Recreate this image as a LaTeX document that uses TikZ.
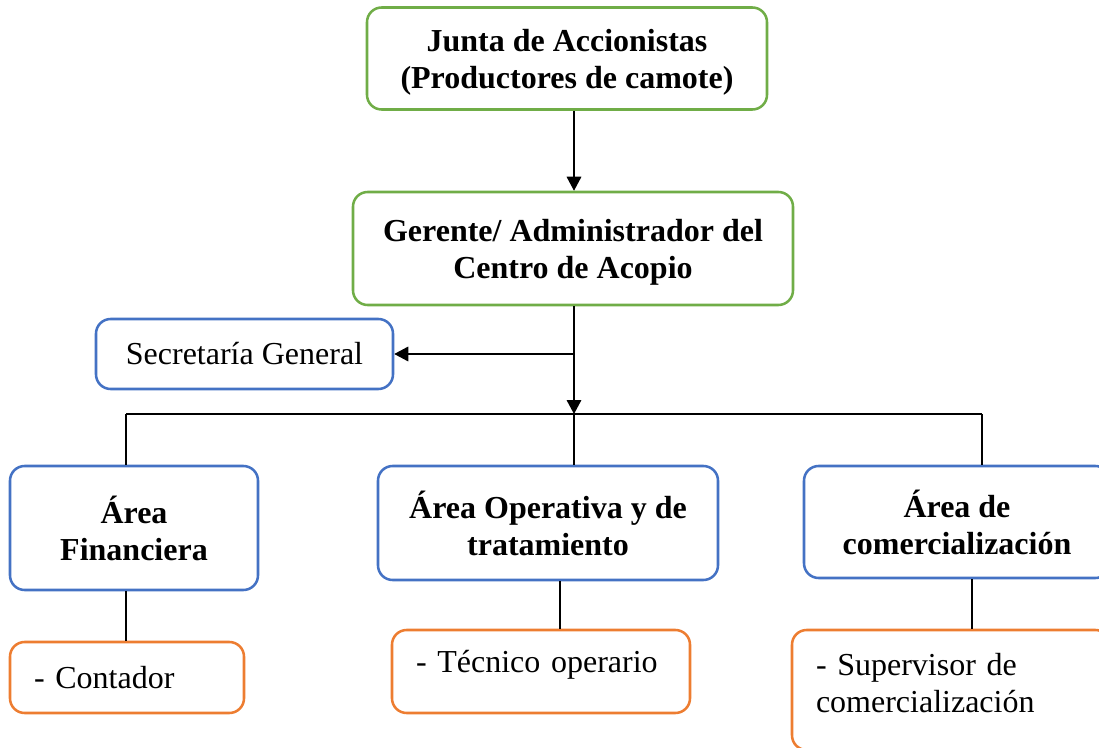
\documentclass[tikz,border=0pt]{standalone}
\usepackage{fontspec}
\setmainfont{Liberation Serif}
\usetikzlibrary{arrows.meta,positioning,calc}

\definecolor{boxgreen}{RGB}{112,173,71}
\definecolor{boxblue}{RGB}{68,114,196}
\definecolor{boxorange}{RGB}{237,125,49}

\begin{document}
\begin{tikzpicture}[
    x=0.75pt, y=-0.75pt,
    box/.style={draw, rounded corners=11pt, line width=1.9pt, align=center,
                font=\fontsize{24}{27.75}\selectfont\bfseries, inner sep=0pt},
    headbox/.style={box, boxgreen, text depth=-3pt},
    areabox/.style={box, boxblue},
    taskbox/.style={box, boxorange, align=left, font=\fontsize{24}{27.75}\selectfont,
                    inner xsep=18pt},
    link/.style={line width=0.9pt, black},
    arrow/.style={link, -{Triangle[length=10.5pt,width=11pt]}}
]
    \useasboundingbox (0,0) rectangle (1099,748);
    \clip (0,0) rectangle (1099,748);

    % direccion
    \node[headbox, minimum width=300pt, minimum height=76.5pt, text=black] (junta) at (567,58.5) {
        Junta de Accionistas\\
        (Productores de camote)
    };
    \node[headbox, minimum width=330pt, minimum height=84.75pt, text=black] (gerente) at (573,248.5) {
        Gerente/ Administrador del\\
        Centro de Acopio
    };
    \node[areabox, minimum width=222.75pt, minimum height=52.5pt, text=black,
          font=\fontsize{24}{27.75}\selectfont] (secre) at (244.5,354) {Secretaría General};

    % areas
    \node[areabox, minimum width=186pt, minimum height=93pt, text=black] (fin) at (134,528) {
        Área\\
        Financiera
    };
    \node[areabox, minimum width=255pt, minimum height=85.5pt, text=black] (oper) at (548,523) {
        Área Operativa y de\\
        tratamiento
    };
    \node[areabox, minimum width=229.5pt, minimum height=84pt, text=black] (comer) at (957,522) {
        Área de\\
        comercialización
    };

    % cargos
    \node[taskbox, text width=139.5pt, minimum height=53.25pt, text=black] (conta) at (127,677.5) {- Contador};
    \node[taskbox, text width=187.5pt, minimum height=62.25pt, text=black,
          text depth=15pt] (tec) at (541,671.5) {- Técnico operario};
    \node[taskbox, text width=202.5pt, minimum height=90pt, text=black,
          text depth=39pt] (super) at (951,690) {
        - Supervisor de\\
        comercialización
    };

    \coordinate (hub) at (574,414);
    \coordinate (busL) at (126,414);
    \coordinate (busR) at (982,414);

    \draw[arrow] (hub |- junta.south) -- (hub |- gerente.north);
    \draw[arrow] (hub |- gerente.south) -- (hub);
    \draw[arrow] (hub |- secre.east) -- (secre.east);

    \draw[link] (busL) -- (busR);
    \draw[link] (busL) -- (busL |- fin.north);
    \draw[link] (hub) -- (hub |- oper.north);
    \draw[link] (busR) -- (busR |- comer.north);

    \draw[link] (busL |- fin.south) -- (busL |- conta.north);
    \draw[link] ([xshift=9pt]oper.south) -- ([xshift=9pt]oper.south |- tec.north);
    \draw[link] ([xshift=11.25pt]comer.south) -- ([xshift=11.25pt]comer.south |- super.north);
\end{tikzpicture}
\end{document}
